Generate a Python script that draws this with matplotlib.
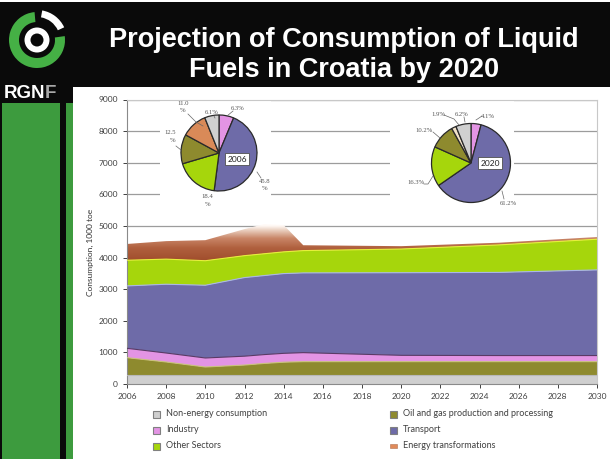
import matplotlib
matplotlib.use("Agg")
import matplotlib.pyplot as plt
import numpy as np
from matplotlib.patches import Rectangle, Wedge, Circle
from matplotlib.lines import Line2D
from matplotlib.colors import LinearSegmentedColormap

# ---------------- data ----------------
years = [2006, 2008, 2010, 2012, 2013, 2014, 2015, 2020, 2025, 2030]
non_energy = [270, 270, 270, 270, 270, 270, 270, 270, 270, 270]
oil_gas = [564, 427, 268, 330, 380, 420, 437, 437, 437, 437]
industry = [295, 283, 285, 280, 280, 280, 285, 200, 193, 193]
transport = [1974, 2176, 2301, 2487, 2500, 2523, 2522, 2613, 2630, 2709]
other_sectors = [812, 794, 776, 693, 690, 687, 706, 750, 870, 971]
energy_transf = [515, 570, 650, 840, 940, 850, 170, 90, 70, 70]

series_names = ["Non-energy consumption", "Oil and gas production and processing",
                "Industry", "Transport", "Other Sectors", "Energy transformations"]

pie_labels_order = ["Industry", "Transport", "Other Sectors",
                    "Oil and gas production and processing",
                    "Energy transformations", "Non-energy consumption"]
pie2006 = [6.3, 45.8, 18.4, 12.5, 11.0, 6.1]
pie2020 = [4.1, 61.2, 16.3, 10.2, 1.9, 6.2]

xticks = list(range(2006, 2031, 2))
yticks = list(range(0, 9001, 1000))

title = "Projection of Consumption of Liquid\nFuels in Croatia by 2020"
ylabel = "Consumption, 1000 toe"

# ---------------- styles ----------------
c_gray = "#cfcfcf"
c_olive = "#8e8a2e"
c_pink = "#e394e4"
c_purple = "#6e6ba8"
c_lime = "#a6d60c"
c_et = "#b8623e"
c_green = "#3d9b3e"

W, H = 610, 459
def fx(x): return x / W
def fy(y): return 1 - y / H

fig = plt.figure(figsize=(W / 100, H / 100), dpi=100)
fig.patch.set_facecolor("white")

def frect(x0, y0, x1, y1, color, z=-1):
    fig.patches.append(Rectangle((fx(x0), fy(y1)), (x1 - x0) / W, (y1 - y0) / H,
                                 transform=fig.transFigure, facecolor=color,
                                 edgecolor="none", zorder=z))

# header & sidebar
frect(0, 2, 610, 87, "#0a0a0a")
frect(0, 87, 73, 103, "#0a0a0a")
frect(0, 103, 73, 459, c_green)
frect(60, 103, 65.5, 459, "#0a0a0a")
frect(0, 103, 1.5, 459, "#0a0a0a")

t1, t2 = title.split("\n")
fig.text(fx(344), fy(40), t1, color="white",
         fontsize=19.5, fontweight="bold", family="Liberation Sans",
         ha="center", va="center")
fig.text(fx(344), fy(70), t2, color="white",
         fontsize=19.5, fontweight="bold", family="Liberation Sans",
         ha="center", va="center")
fig.text(fx(4), fy(93), "RGN", color="white", fontsize=13.5, fontweight="bold",
         family="Liberation Sans", ha="left", va="center")
fig.text(fx(45), fy(93), "F", color="#a8a8a8", fontsize=13.5, fontweight="bold",
         family="Liberation Sans", ha="left", va="center")

# logo
lax = fig.add_axes([0, fy(75), 75 / W, 75 / H])
lax.set_xlim(0, 75); lax.set_ylim(0, 75); lax.axis("off")
cx, cy = 37, 75 - 40
lax.add_patch(Wedge((cx, cy), 28, 95, 368, width=10, facecolor="#45b045", edgecolor="none"))
lax.add_patch(Wedge((cx, cy), 30, 25, 80, width=7, facecolor="white", edgecolor="none"))
lax.add_patch(Circle((cx, cy), 12.5, facecolor="white", edgecolor="none"))
lax.add_patch(Circle((cx, cy), 6.5, facecolor="#0a0a0a", edgecolor="none"))

# ---------------- main axes ----------------
ax = fig.add_axes([fx(127), fy(384), (597 - 127) / W, (384 - 99.5) / H])
ax.set_xlim(2006, 2030)
ax.set_ylim(0, 9000)
ax.set_axisbelow(True)
ax.grid(axis="y", color="#9c9c9c", lw=0.9)
ax.set_yticks(yticks)
ax.set_xticks(xticks)
ax.tick_params(labelsize=6, colors="#404040", length=3, width=0.7)
for t in ax.get_xticklabels() + ax.get_yticklabels():
    t.set_family("Lato")
for s in ["left", "bottom"]:
    ax.spines[s].set_color("#8a8a8a"); ax.spines[s].set_linewidth(0.8)
for s in ["top", "right"]:
    ax.spines[s].set_color("#c8c8c8"); ax.spines[s].set_linewidth(0.8)

x = np.array(years, dtype=float)
layers = [non_energy, oil_gas, industry, transport, other_sectors, energy_transf]
colors = [c_gray, c_olive, c_pink, c_purple, c_lime, c_et]
edges = ["#b8b8b8", "#c9c27a", "#5a3a66", "#a9b6e6", "#e6f03a", None]
base = np.zeros(len(x))
polys = []
for vals, col, ec in zip(layers, colors, edges):
    top = base + np.array(vals, dtype=float)
    p = ax.fill_between(x, base, top, facecolor=col, edgecolor="none", zorder=2)
    if ec:
        ax.plot(x, top, color=ec, lw=0.8, zorder=3)
    polys.append(p)
    base = top

# gradient for energy transformations
et_poly = polys[-1]
et_poly.set_facecolor("none")
cmap = LinearSegmentedColormap.from_list(
    "et", [(0.0, "#9c4828"), (0.385, "#b0603e"), (0.615, "#c98668"),
           (0.81, "#ead0c0"), (0.91, "#fff8f4"), (1.0, "#ffffff")])
grad = np.linspace(0, 1, 256).reshape(-1, 1)
im = ax.imshow(grad, extent=[2006, 2030, 3800, 5100], origin="lower",
               aspect="auto", cmap=cmap, zorder=2.1)
im.set_clip_path(et_poly.get_paths()[0], ax.transData)
ax.set_xlim(2006, 2030)
ax.set_ylim(0, 9000)

# white boxes behind pies (hide gridlines)
for (x0, y0, x1, y1) in [(160, 100, 271, 217), (390, 100, 514, 217)]:
    ax.add_patch(Rectangle((fx(x0), fy(y1)), (x1 - x0) / W, (y1 - y0) / H,
                           transform=fig.transFigure, facecolor="white",
                           edgecolor="none", zorder=0.8))

fig.text(fx(90), fy(252), ylabel, rotation=90, fontsize=6, color="#303030",
         family="Lato", ha="center", va="center")

# ---------------- pies ----------------
pie_colors = [c_pink, c_purple, c_lime, c_olive, "#d98a58", "#d0d0d0"]
pie_colors20 = [c_pink, c_purple, c_lime, c_olive, "#f2e2c8", "#d0d0d0"]

def draw_pie(cxp, cyp, r, vals, cols, year_txt, boxpos):
    pax = fig.add_axes([fx(cxp - r - 2), fy(cyp + r + 2), (2 * r + 4) / W, (2 * r + 4) / H])
    pax.pie(vals, colors=cols, startangle=90, counterclock=False,
            radius=1, wedgeprops=dict(edgecolor="#2a2a2a", linewidth=0.9))
    lim = (r + 2) / r
    pax.set_xlim(-lim, lim); pax.set_ylim(-lim, lim)
    pax.axis("off")
    fig.text(fx(boxpos[0]), fy(boxpos[1]), year_txt, fontsize=6, family="Lato",
             ha="center", va="center", color="#202020",
             bbox=dict(boxstyle="square,pad=0.25", facecolor="white",
                       edgecolor="#505050", linewidth=0.6))

draw_pie(219, 153, 38, pie2006, pie_colors, "2006", (237, 159))
draw_pie(471, 163, 39.5, pie2020, pie_colors20, "2020", (490, 163))

lab_kw = dict(fontsize=4.8, family="Liberation Serif", color="#555555",
              ha="center", va="center")
labels = [
    (183, 104, "11.0"), (183, 111, "%"),
    (212, 113, "6.1%"), (238, 109, "6.3%"),
    (170, 133, "12.5"), (173, 141, "%"),
    (265, 181, "45.8"), (265, 189, "%"),
    (207, 197, "18.4"), (208, 205, "%"),
    (438, 114, "1.9%"), (462, 114, "6.2%"), (488, 116, "4.1%"),
    (424, 131, "10.2%"), (416, 183, "16.3%"), (508, 203, "61.2%"),
]
for (px, py, t) in labels:
    fig.text(fx(px), fy(py), t, **lab_kw)

leaders = [
    [(188, 114), (196, 122), (203, 126)],
    [(214, 116), (215, 118)],
    [(233, 111), (227, 116)],
    [(176, 146), (181, 150)],
    [(261, 178), (257, 172)],
    [(444, 115), (454, 119), (459, 125)],
    [(464, 117), (465, 122)],
    [(482, 116), (476, 120)],
    [(433, 132), (440, 138)],
    [(424, 184), (428, 184), (433, 176)],
    [(504, 199), (502, 191)],
]
for pts in leaders:
    xs = [fx(p[0]) for p in pts]
    ys = [fy(p[1]) for p in pts]
    fig.add_artist(Line2D(xs, ys, transform=fig.transFigure, color="#666666", lw=0.5))

# ---------------- legend ----------------
leg_items = [
    (156, 414, c_gray, "Non-energy consumption"),
    (156, 430, c_pink, "Industry"),
    (156, 446, c_lime, "Other Sectors"),
    (393, 414, c_olive, "Oil and gas production and processing"),
    (393, 430, c_purple, "Transport"),
    (393, 446, "#e08a5a", "Energy transformations"),
]
for i, (px, py, col, txt) in enumerate(leg_items):
    if i == 5:
        fig.patches.append(Rectangle((fx(px - 3.5), fy(py + 2)), 7 / W, 4 / H,
                                     transform=fig.transFigure, facecolor=col,
                                     edgecolor="#b07050", lw=0.4, zorder=3))
    else:
        fig.patches.append(Rectangle((fx(px - 3.5), fy(py + 3.5)), 7 / W, 7 / H,
                                     transform=fig.transFigure, facecolor=col,
                                     edgecolor="#808080", lw=0.8, zorder=3))
    fig.text(fx(px + 10), fy(py), txt, fontsize=6.5, family="Lato",
             color="#404040", ha="left", va="center")

fig.savefig("out.png", dpi=100)
